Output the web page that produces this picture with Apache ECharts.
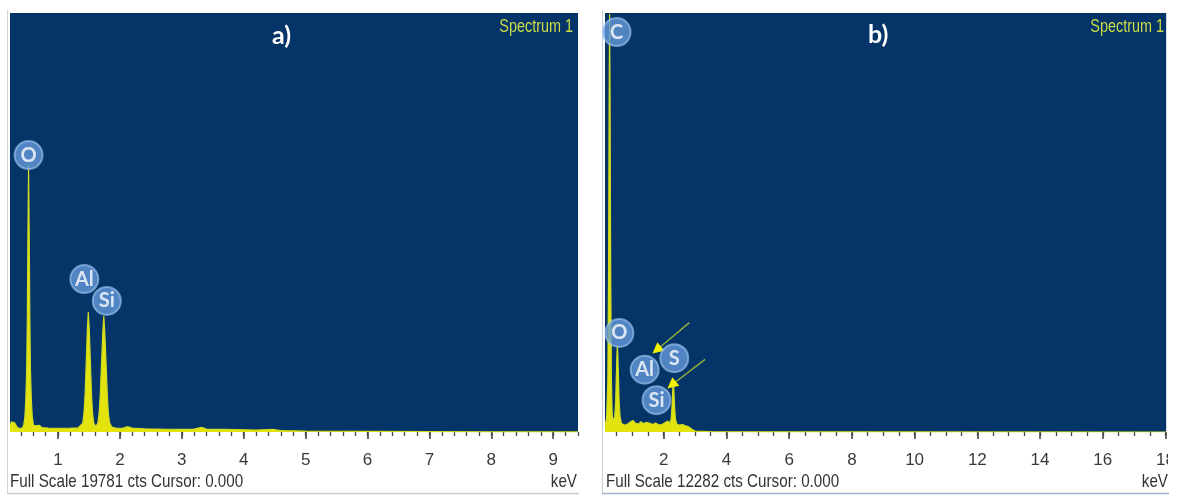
<!DOCTYPE html>
<html>
<head>
<meta charset="utf-8">
<script src="https://cdn.jsdelivr.net/npm/echarts@6/dist/echarts.min.js"></script>
<style>
  html, body { margin: 0; padding: 0; background: #ffffff; }
  #chart { width: 1178px; height: 496px; }
</style>
</head>
<body>
<div id="chart"></div>
<script>
// ---------- Spectrum a) ----------
const fullScaleA = 19781;
const rangeA = [0.225, 9.40];
const majorTicksA = [1, 2, 3, 4, 5, 6, 7, 8, 9];
// [keV, counts]
const spectrumA = [
  [0.225, 300], [0.25, 480], [0.27, 570], [0.30, 430], [0.34, 220], [0.38, 160],
  [0.42, 190], [0.445, 300], [0.465, 700], [0.48, 1500], [0.495, 3000], [0.505, 5500],
  [0.515, 9500], [0.525, 12600], [0.535, 9500], [0.545, 5500], [0.555, 3000],
  [0.57, 1500], [0.585, 700], [0.605, 320], [0.63, 230], [0.66, 300], [0.68, 370],
  [0.70, 310], [0.74, 210], [0.85, 180], [1.0, 170], [1.2, 180], [1.33, 200],
  [1.40, 420], [1.42, 900], [1.437, 1700], [1.452, 2900], [1.474, 4800], [1.49, 5660],
  [1.506, 4800], [1.528, 2900], [1.543, 1700], [1.558, 900], [1.578, 420], [1.61, 260],
  [1.645, 420], [1.665, 900], [1.682, 1700], [1.697, 2800], [1.724, 4700], [1.74, 5480],
  [1.756, 4700], [1.783, 2800], [1.798, 1700], [1.813, 900], [1.835, 420], [1.87, 230],
  [1.95, 170], [2.05, 190], [2.13, 250], [2.2, 190], [2.4, 150], [2.8, 130],
  [3.2, 140], [3.32, 220], [3.42, 120], [3.7, 120], [4.2, 90], [4.47, 120],
  [4.6, 70], [5.0, 40], [6.0, 25], [7.0, 15], [8.0, 10], [9.4, 5]
];
const peakNamesA = ['O', 'Al', 'Si'];
const peakKeVA = [0.525, 1.49, 1.74];
const peakCountsA = [12600, 5660, 5480];

// ---------- Spectrum b) ----------
const fullScaleB = 12282;
const rangeB = [0.13, 18.02];
const majorTicksB = [2, 4, 6, 8, 10, 12, 14, 16, 18];
const spectrumB = [
  [0.13, 180], [0.18, 400], [0.22, 1500], [0.245, 5000], [0.262, 9800], [0.277, 12250],
  [0.292, 9800], [0.31, 5000], [0.335, 1500], [0.36, 500], [0.40, 300], [0.44, 450],
  [0.47, 900], [0.49, 1600], [0.51, 2250], [0.525, 2550], [0.54, 2250], [0.56, 1600],
  [0.58, 900], [0.61, 450], [0.65, 260], [0.75, 200], [0.85, 230], [0.95, 300],
  [1.02, 340], [1.1, 260], [1.2, 230], [1.27, 300], [1.35, 250], [1.44, 280],
  [1.49, 330], [1.55, 260], [1.65, 220], [1.74, 260], [1.85, 210], [1.95, 220],
  [2.05, 280], [2.14, 320], [2.2, 260], [2.24, 380], [2.27, 800], [2.29, 1250],
  [2.307, 1460], [2.325, 1250], [2.345, 800], [2.375, 380], [2.42, 230], [2.5, 200],
  [2.6, 220], [2.7, 180], [2.8, 150], [2.9, 80], [3.0, 30], [3.5, 10], [5.0, 5],
  [10.0, 2], [18.02, 0]
];
const peakNamesB = ['C', 'O', 'Al', 'S', 'Si'];
const peakKeVB = [0.277, 0.525, 1.49, 2.307, 1.74];
const peakCountsB = [12250, 2550, 330, 1460, 260];
// annotation arrows, [keV, counts]
const arrowFromB = [[2.82, 3204], [3.32, 2131]];
const arrowToB = [[1.777, 2403], [2.255, 1378]];

// ---------- styling ----------
const PLOT_BG = '#053469';
const SPEC_FILL = '#e3e30e';
const SPEC_LINE = '#cfdc22';
const SANS = '"Liberation Sans", Arial, sans-serif';
const LABEL_FONT = 'Lato, "Open Sans", sans-serif';

// pixel offsets of the element badges relative to their peak
const badgeOffset = {
  a: { O: [0, -10], Al: [-4, -33], Si: [3, -15] },
  b: { C: [7, 18], O: [2, -12], Al: [-3, -51], S: [1, -24], Si: [1, -23] }
};

function minorTicks(range, step) {
  const out = [];
  const start = Math.ceil(range[0] / step - 1e-9);
  for (let i = start; i * step <= range[1] + 1e-9; i++) out.push(+(i * step).toFixed(4));
  return out;
}

const grids = [
  { left: 10, top: 13, width: 568, height: 419, show: true, backgroundColor: PLOT_BG, borderWidth: 0 },
  { left: 605, top: 13, width: 563, height: 419, show: true, backgroundColor: PLOT_BG, borderWidth: 0 }
];

function majorAxis(gridIndex, range, ticks) {
  return {
    type: 'value', gridIndex, position: 'bottom', min: range[0], max: range[1],
    axisLine: { show: false },
    splitLine: { show: false },
    axisTick: { show: true, customValues: ticks, length: 7, lineStyle: { color: '#444', width: 1.6 } },
    axisLabel: {
      show: true, customValues: ticks, margin: 20,
      color: '#3a3a3a', fontFamily: SANS, fontSize: 17
    }
  };
}
function minorAxis(gridIndex, range, step) {
  return {
    type: 'value', gridIndex, position: 'bottom', min: range[0], max: range[1],
    axisLine: { show: false }, splitLine: { show: false },
    axisLabel: { show: false },
    axisTick: { show: true, customValues: minorTicks(range, step), length: 4, lineStyle: { color: '#444', width: 1.3 } }
  };
}

function spectrumSeries(xi, yi, data) {
  return {
    type: 'line', xAxisIndex: xi, yAxisIndex: yi, data,
    showSymbol: false, smooth: false, clip: true, silent: true,
    lineStyle: { color: SPEC_LINE, width: 1.2 },
    areaStyle: { color: SPEC_FILL, opacity: 1 },
    z: 2
  };
}

function badgeSeries(xi, yi, names, kev, counts, offsets) {
  return {
    type: 'scatter', xAxisIndex: xi, yAxisIndex: yi, clip: false, silent: true, z: 5,
    data: names.map((n, i) => ({
      name: n, value: [kev[i], counts[i]], symbolOffset: offsets[n]
    })),
    symbol: 'circle', symbolSize: 28,
    itemStyle: { color: '#6399da', borderColor: 'rgba(160,198,240,0.8)', borderWidth: 2 },
    label: {
      show: true, position: 'inside', formatter: p => p.name,
      color: '#ffffff', fontFamily: LABEL_FONT, fontWeight: 'bold', fontSize: 20
    }
  };
}

const arrowSeries = {
  type: 'line', xAxisIndex: 2, yAxisIndex: 1, data: [], silent: true, z: 6,
  markLine: {
    silent: true, symbol: ['none', 'none'], animation: false,
    lineStyle: { color: '#8fae3a', width: 1.5, type: 'solid' },
    label: { show: false },
    data: arrowFromB.map((f, i) => [{ coord: f }, { coord: arrowToB[i] }])
  },
  markPoint: {
    silent: true, animation: false, symbol: 'triangle', symbolSize: [11, 11],
    itemStyle: { color: '#f2f200' }, label: { show: false },
    data: arrowToB.map(t => ({ coord: t, symbolRotate: 130 }))
  }
};

// condensed text, drawn with a horizontal squeeze
function narrowText(x, y, txt, align, size, fill) {
  return {
    type: 'text', x, y, scaleX: 0.8, scaleY: 1, z: 20,
    style: { text: txt, fill, font: size + 'px ' + SANS, align, verticalAlign: 'middle' }
  };
}

const option = {
  animation: false,
  backgroundColor: '#ffffff',
  grid: grids,
  xAxis: [
    majorAxis(0, rangeA, majorTicksA),
    minorAxis(0, rangeA, 0.2),
    majorAxis(1, rangeB, majorTicksB),
    minorAxis(1, rangeB, 0.5)
  ],
  yAxis: [
    { type: 'value', gridIndex: 0, min: 0, max: fullScaleA, show: false },
    { type: 'value', gridIndex: 1, min: 0, max: fullScaleB, show: false }
  ],
  series: [
    spectrumSeries(0, 0, spectrumA),
    spectrumSeries(2, 1, spectrumB),
    badgeSeries(0, 0, peakNamesA, peakKeVA, peakCountsA, badgeOffset.a),
    badgeSeries(2, 1, peakNamesB, peakKeVB, peakCountsB, badgeOffset.b),
    arrowSeries
  ],
  graphic: [
    // right edge of panel b is trimmed
    { type: 'rect', shape: { x: 1168, y: 433, width: 10, height: 63 }, style: { fill: '#ffffff' }, z: 10 },
    // panel frames
    { type: 'line', shape: { x1: 7.5, y1: 10, x2: 7.5, y2: 494 }, style: { stroke: '#d3d6dc', lineWidth: 1 }, z: 11 },
    { type: 'line', shape: { x1: 7, y1: 493.5, x2: 579, y2: 493.5 }, style: { stroke: '#c9ccd3', lineWidth: 1.5 }, z: 11 },
    { type: 'line', shape: { x1: 602.5, y1: 10, x2: 602.5, y2: 494 }, style: { stroke: '#c6cfdc', lineWidth: 1 }, z: 11 },
    { type: 'line', shape: { x1: 602, y1: 493.5, x2: 1169, y2: 493.5 }, style: { stroke: '#9fb2cf', lineWidth: 1.5 }, z: 11 },
    // titles
    { type: 'text', left: 272, top: 23, style: { text: 'a)', fill: '#ffffff', font: 'bold 25px ' + LABEL_FONT } },
    { type: 'text', left: 868, top: 22, style: { text: 'b)', fill: '#ffffff', font: 'bold 25px ' + LABEL_FONT } },
    narrowText(573, 27, 'Spectrum 1', 'right', 18, '#cbdb45'),
    narrowText(1164, 27, 'Spectrum 1', 'right', 18, '#cbdb45'),
    // footers
    narrowText(10, 482, 'Full Scale 19781 cts Cursor: 0.000', 'left', 19, '#333'),
    narrowText(577, 482, 'keV', 'right', 19, '#333'),
    narrowText(606, 482, 'Full Scale 12282 cts Cursor: 0.000', 'left', 19, '#333'),
    narrowText(1168, 482, 'keV', 'right', 19, '#333')
  ]
};

const chart = echarts.init(document.getElementById('chart'), null, { renderer: 'canvas' });
chart.setOption(option);
</script>
</body>
</html>
